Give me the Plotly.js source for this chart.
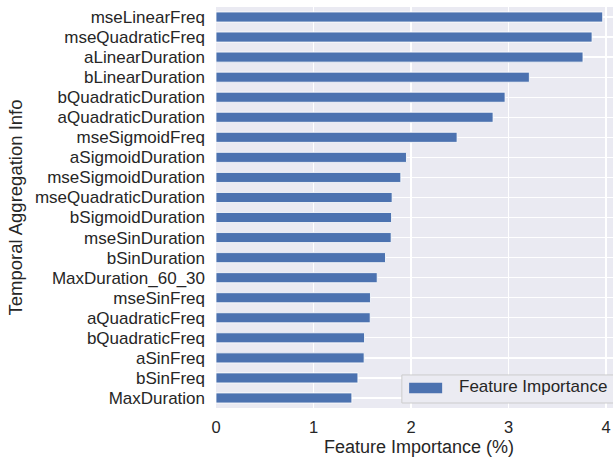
<!DOCTYPE html>
<html>
<head>
<meta charset="utf-8">
<script src="https://cdn.plot.ly/plotly-3.0.1.min.js"></script>
<style>
html,body{margin:0;padding:0;overflow:hidden;background:#fff;}
#chart{width:622px;height:457px;}
</style>
</head>
<body>
<div id="chart"></div>
<script>
const categories = [
  "mseLinearFreq","mseQuadraticFreq","aLinearDuration","bLinearDuration",
  "bQuadraticDuration","aQuadraticDuration","mseSigmoidFreq","aSigmoidDuration",
  "mseSigmoidDuration","mseQuadraticDuration","bSigmoidDuration","mseSinDuration",
  "bSinDuration","MaxDuration_60_30","mseSinFreq","aQuadraticFreq",
  "bQuadraticFreq","aSinFreq","bSinFreq","MaxDuration"
];
const importance = [
  3.965, 3.856, 3.763, 3.213,
  2.964, 2.841, 2.472, 1.953,
  1.895, 1.806, 1.800, 1.796,
  1.738, 1.653, 1.584, 1.581,
  1.523, 1.519, 1.455, 1.393
];
const seriesName = "Feature Importance";
const xTitle = "Feature Importance (%)";
const yTitle = "Temporal Aggregation Info";
const xTicks = [0, 1, 2, 3, 4];

const barColor = "#4c72b0";
const textColor = "#262626";
const font = "Liberation Sans, Arial, sans-serif";

const trace = {
  type: "bar",
  orientation: "h",
  x: importance,
  y: categories,
  width: 0.5,
  name: seriesName,
  marker: {color: barColor, line: {color: "#ffffff", width: 0.8}},
  showlegend: false,
  hoverinfo: "x+y"
};

const layout = {
  width: 622,
  height: 457,
  margin: {l: 215.7, r: 0, t: 7.3, b: 49, pad: 0},
  paper_bgcolor: "#ffffff",
  plot_bgcolor: "#eaeaf2",
  font: {family: font, color: textColor, size: 17},
  bargap: 0.5,
  xaxis: {
    range: [0, 4.163],
    tickvals: xTicks,
    ticktext: xTicks.map(String),
    showgrid: true,
    gridcolor: "#ffffff",
    gridwidth: 1.3,
    zeroline: false,
    showline: false,
    ticks: "",
    ticklabelstandoff: 7,
    tickfont: {size: 16.5, color: textColor}
  },
  yaxis: {
    type: "category",
    range: [19.5, -0.5],
    showgrid: true,
    gridcolor: "#ffffff",
    gridwidth: 1.3,
    zeroline: false,
    showline: false,
    ticks: "",
    ticklabelstandoff: 10,
    tickfont: {size: 17, color: textColor},
    title: {text: yTitle, font: {size: 18.5, color: textColor}, standoff: 7}
  },
  shapes: [
    {type: "rect", xref: "paper", yref: "paper",
     x0: 0.4578, x1: 0.990, y0: 0.0125, y1: 0.0824,
     fillcolor: "#ebebf2", line: {color: "#cccccc", width: 1}},
    {type: "rect", xref: "paper", yref: "paper",
     x0: 0.4757, x1: 0.557, y0: 0.0367, y1: 0.0631,
     fillcolor: barColor, line: {width: 0}}
  ],
  annotations: [
    {xref: "paper", yref: "paper", x: 0.5931, y: 0.0524,
     xanchor: "left", yanchor: "middle", showarrow: false,
     text: seriesName, font: {size: 17, color: textColor}},
    {xref: "paper", yref: "paper", x: 0.5, y: -0.1235,
     xanchor: "center", yanchor: "bottom", showarrow: false,
     borderpad: 0,
     text: xTitle, font: {size: 18, color: textColor}}
  ]
};

Plotly.newPlot("chart", [trace], layout, {displayModeBar: false, staticPlot: true});
</script>
</body>
</html>
